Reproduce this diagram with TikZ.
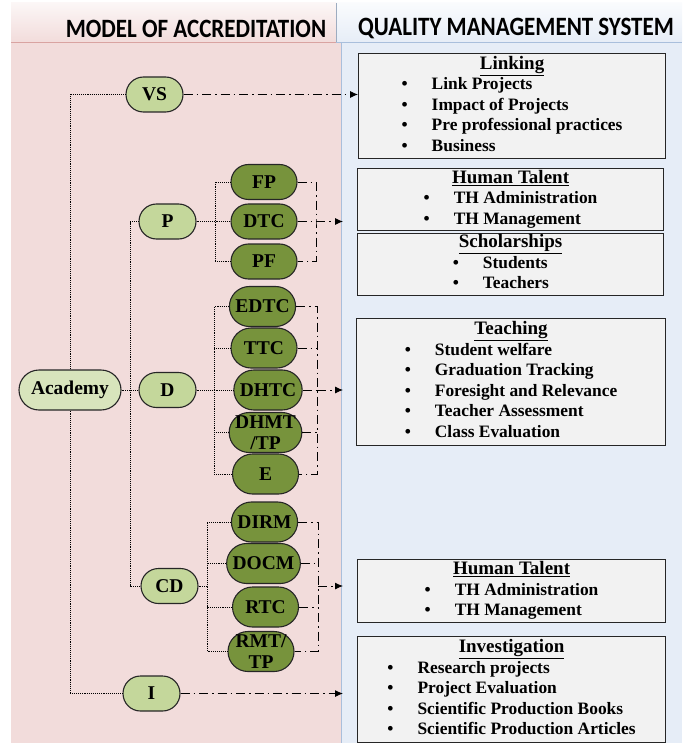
\documentclass[tikz,border=0pt]{standalone}
\usepackage{fontspec}
\setmainfont{Liberation Serif}
\newfontfamily\hdrfont{Carlito}
\usepackage{xcolor}
\usepackage{tikz}
\usetikzlibrary{
	arrows.meta,shapes
}

\definecolor{pinkpanel}{HTML}{F2DCDB}
\definecolor{pinkline}{HTML}{D9A3A1}
\definecolor{bluepanel}{HTML}{E6EDF7}
\definecolor{blueline}{HTML}{A9BFDC}
\definecolor{lgreen}{HTML}{C4D79B}
\definecolor{pgreen}{HTML}{D8E4BC}
\definecolor{dgreen}{HTML}{77933C}
\definecolor{boxgray}{HTML}{F2F2F2}

\newcommand{\boxtitle}[1]{\multicolumn{2}{c}{\fontsize{19}{20.5}\selectfont\underline{#1}}}
\newcommand{\hdrtext}[1]{\scalebox{1}[1.15]{#1}}

\tikzset{
	ovalnode/.style={draw=black!85, line width=1.1pt, rounded corners=17.5pt, minimum height=35pt,
		inner xsep=6pt, inner ysep=0pt, align=center, font=\fontsize{19.5}{21}\selectfont\bfseries},
	lnode/.style={ovalnode, fill=lgreen, minimum width=57pt},
	dnode/.style={ovalnode, fill=dgreen, minimum width=66pt, minimum height=40pt, rounded corners=20pt},
	qbox/.style={draw=black!85, line width=1.1pt, fill=boxgray, anchor=north west, inner sep=0pt,
		font=\fontsize{17.4}{20.5}\selectfont\bfseries},
	dotline/.style={densely dotted, line width=0.9pt},
	linkline/.style={line width=0.9pt, dash pattern=on 9pt off 4pt on 1.5pt off 4pt},
	hdr/.style={font=\hdrfont\bfseries\fontsize{23}{26}\selectfont},
}

\begin{document}
\begin{tikzpicture}[x=1pt,y=-1pt,>={Latex[length=8pt,width=7pt]}]
		\useasboundingbox (0,0) rectangle (682,743);
		% panels
		\fill[pinkpanel] (11,42) rectangle (341,743);
		\fill[bluepanel] (341,42) rectangle (682,743);
		\shade[top color=pinkpanel!25, bottom color=pinkpanel] (11,3) rectangle (336,42);
		\shade[top color=bluepanel!20, bottom color=bluepanel] (336,3) rectangle (682,42);
		\draw[pinkline, line width=0.8pt] (11,42) -- (336,42);
		\draw[blueline, line width=0.8pt] (336,42) -- (682,42);
		\draw[blueline!70!gray, line width=0.6pt] (336,3) -- (336,42);
		\draw[blueline, line width=1pt] (341,42) -- (341,743);
		\node[hdr] (hL) at (196,28.5) {\hdrtext{MODEL OF ACCREDITATION}};
		\node[hdr] (hR) at (516,28.5) {\hdrtext{QUALITY MANAGEMENT SYSTEM}};
		%
		\node[ovalnode, fill=pgreen, minimum width=102pt, minimum height=40pt, rounded corners=20pt] (Acad) at (70,390) {Academy};
		\node[lnode] (VS) at (154.5,94.5) {VS};
		\node[lnode] (P) at (167.5,221.5) {P};
		\node[lnode] (D) at (167.5,390) {D};
		\node[lnode] (CD) at (169.5,586) {CD};
		\node[lnode] (I) at (151.5,693.5) {I};
		\node[dnode, minimum height=35pt, rounded corners=17.5pt] (FP) at (264,182) {FP};
		\node[dnode, minimum height=35pt, rounded corners=17.5pt] (DTC) at (264,221.5) {DTC};
		\node[dnode, minimum height=35pt, rounded corners=17.5pt] (PF) at (264,261.5) {PF};
		\node[dnode] (EDTC) at (262.5,306.5) {EDTC};
		\node[dnode] (TTC) at (264,348) {TTC};
		\node[dnode] (DHTC) at (268,390) {DHTC};
		\node[dnode] (DHMT) at (265.5,432.5) {DHMT\\/TP};
		\node[dnode] (E) at (265.5,474) {E};
		\node[dnode] (DIRM) at (264.5,522) {DIRM};
		\node[dnode] (DOCM) at (263.5,563.5) {DOCM};
		\node[dnode] (RTC) at (265.5,607) {RTC};
		\node[dnode] (RMT) at (261,651.5) {RMT/\\TP};
		%
		\node[qbox, minimum width=307pt, minimum height=105pt] (Link) at (358,53) {\begin{tabular}{@{}c@{\hspace{24pt}}l@{}}
			\boxtitle{Linking}\\
			\textbullet & Link Projects\\
			\textbullet & Impact of Projects\\
			\textbullet & Pre professional practices\\
			\textbullet & Business
		\end{tabular}};
		\node[qbox, minimum width=306pt, minimum height=62pt] (HT) at (357,168) {\begin{tabular}{@{}c@{\hspace{24pt}}l@{}}
			\boxtitle{Human Talent}\\
			\textbullet & TH Administration\\
			\textbullet & TH Management
		\end{tabular}};
		\node[qbox, minimum width=306pt, minimum height=60pt] (Sch) at (357,233) {\begin{tabular}{@{}c@{\hspace{24pt}}l@{}}
			\boxtitle{Scholarships}\\
			\textbullet & Students\\
			\textbullet & Teachers
		\end{tabular}};
		\node[qbox, minimum width=309pt, minimum height=127pt] (Teach) at (356,318) {\begin{tabular}{@{}c@{\hspace{24pt}}l@{}}
			\boxtitle{Teaching}\\
			\textbullet & Student welfare\\
			\textbullet & Graduation Tracking\\
			\textbullet & Foresight and Relevance\\
			\textbullet & Teacher Assessment\\
			\textbullet & Class Evaluation
		\end{tabular}};
		\node[qbox, minimum width=308pt, minimum height=63pt] (HT') at (357,559) {\begin{tabular}{@{}c@{\hspace{24pt}}l@{}}
			\boxtitle{Human Talent}\\
			\textbullet & TH Administration\\
			\textbullet & TH Management
		\end{tabular}};
		\node[qbox, minimum width=308pt, minimum height=106pt] (Inv) at (357,636) {\begin{tabular}{@{}c@{\hspace{24pt}}l@{}}
			\boxtitle{Investigation}\\
			\textbullet & Research projects\\
			\textbullet & Project Evaluation\\
			\textbullet & Scientific Production Books\\
			\textbullet & Scientific Production Articles
		\end{tabular}};
		%
		\coordinate (jA) at (130,390);
		\coordinate (jP) at (215,221.5);
		\coordinate (jD) at (214,390);
		\coordinate (jC) at (207,586);
		\coordinate (rP) at (316,221.5);
		\coordinate (rD) at (317,390);
		\coordinate (rC) at (318,586);
		\coordinate (aP) at (343,221.5);
		\coordinate (aD) at (343,390);
		\coordinate (aC) at (343,586);
		\coordinate (aI) at (343,693.5);
		% dotted tree
		\draw[dotline] (VS.west) -| (Acad.north);
		\draw[dotline] (I.west) -| (Acad.south);
		\draw[dotline] (Acad.east) -- (D.west);
		\draw[dotline] (P.west) -| (jA) |- (CD.west);
		\draw[dotline] (P.east) -- (DTC.west);
		\draw[dotline] (FP.west) -| (jP) |- (PF.west);
		\draw[dotline] (D.east) -- (DHTC.west);
		\draw[dotline] (EDTC.west) -| (jD) |- (E.west);
		\foreach \n in {TTC,DHMT}
			\draw[dotline] (\n.west) -- (\n.west -| jD);
		\draw[dotline] (CD.east) -- (jC);
		\draw[dotline] (DIRM.west) -| (jC) |- (RMT.west);
		\foreach \n in {DOCM,RTC}
			\draw[dotline] (\n.west) -- (\n.west -| jC);
		% dash-dot links to the system
		\draw[linkline,->] (VS.east) -- (VS.east -| Link.west);
		\draw[linkline] (FP.east) -| (rP) |- (PF.east);
		\draw[linkline] (DTC.east) -- (rP);
		\draw[linkline,->] (rP) -- (aP);
		\draw[linkline] (EDTC.east) -| (rD) |- (E.east);
		\foreach \n in {TTC,DHTC,DHMT}
			\draw[linkline] (\n.east) -- (\n.east -| rD);
		\draw[linkline,->] (rD) -- (aD);
		\draw[linkline] (DIRM.east) -| (rC) |- (RMT.east);
		\foreach \n in {DOCM,RTC}
			\draw[linkline] (\n.east) -- (\n.east -| rC);
		\draw[linkline,->] (rC) -- (aC);
		\draw[linkline,->] (I.east) -- (aI);
	\end{tikzpicture}
\end{document}
